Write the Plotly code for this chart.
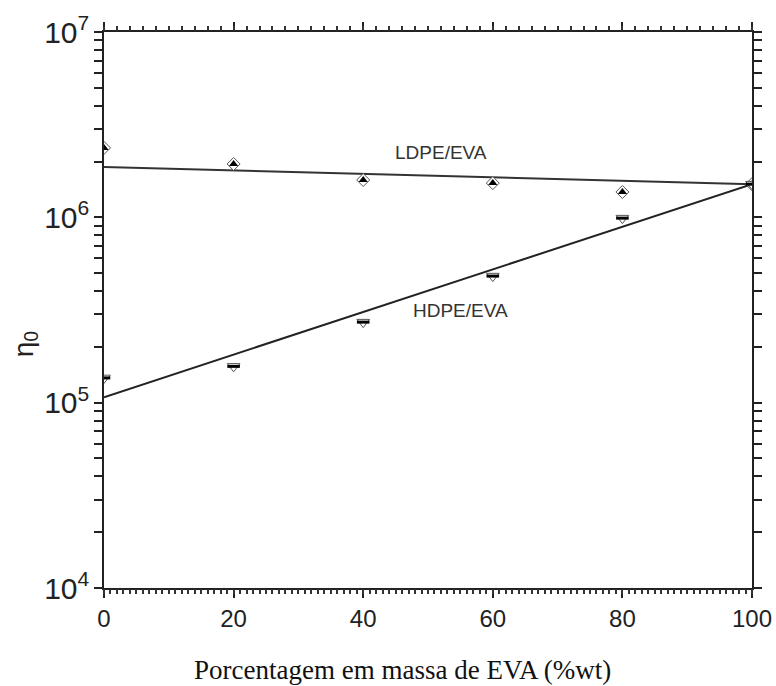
import plotly.graph_objects as go

# Data
eva_pct = [0, 20, 40, 60, 80, 100]
ldpe_eta0 = [2.37e6, 1.94e6, 1.59e6, 1.53e6, 1.37e6, 1.51e6]
hdpe_eta0 = [1.36e5, 1.57e5, 2.72e5, 4.82e5, 9.9e5, 1.51e6]

fit_x = [0, 100]
ldpe_fit = [1.87e6, 1.51e6]
hdpe_fit = [1.07e5, 1.51e6]

fig = go.Figure()

# fitted lines
fig.add_trace(go.Scatter(x=fit_x, y=ldpe_fit, mode="lines",
                         line=dict(color="#333333", width=2), showlegend=False))
fig.add_trace(go.Scatter(x=fit_x, y=hdpe_fit, mode="lines",
                         line=dict(color="#222222", width=2), showlegend=False))

# LDPE/EVA markers (half-filled diamond look)
fig.add_trace(go.Scatter(x=eva_pct, y=ldpe_eta0, mode="markers",
                         marker=dict(symbol="diamond", size=10, color="white",
                                     line=dict(color="#555555", width=1)),
                         showlegend=False))
fig.add_trace(go.Scatter(x=eva_pct, y=ldpe_eta0, mode="markers",
                         marker=dict(symbol="triangle-up", size=8, color="black",
                                     line=dict(width=0)),
                         showlegend=False))

# HDPE/EVA markers (half-filled down triangle look)
fig.add_trace(go.Scatter(x=eva_pct, y=hdpe_eta0, mode="markers",
                         marker=dict(symbol="triangle-down", size=11, color="white",
                                     line=dict(color="#555555", width=1)),
                         showlegend=False))
fig.add_trace(go.Scatter(x=eva_pct, y=hdpe_eta0, mode="markers",
                         marker=dict(symbol="line-ew", size=9,
                                     line=dict(color="black", width=3)),
                         showlegend=False))

# invisible traces for the extra (tick-only) axes
for ax in ["x2", "x3", "x4"]:
    fig.add_trace(go.Scatter(x=fit_x, y=ldpe_fit, xaxis=ax, mode="lines",
                             line=dict(width=0), opacity=0, showlegend=False,
                             hoverinfo="skip"))

fig.add_annotation(x=52, y=6.35, text="LDPE/EVA", showarrow=False,
                   font=dict(family="Liberation Sans, Arial", size=19, color="#333333"))
fig.add_annotation(x=55, y=5.5, text="HDPE/EVA", showarrow=False,
                   font=dict(family="Liberation Sans, Arial", size=19, color="#333333"))

# axis titles as annotations for exact placement
fig.add_annotation(xref="paper", yref="paper", x=0.46, y=-0.147,
                   xanchor="center", yanchor="middle", showarrow=False,
                   text="Porcentagem em massa de EVA (%wt)",
                   font=dict(family="Liberation Serif, Times New Roman", size=27,
                             color="#111111"))
fig.add_annotation(xref="paper", yref="paper", x=-0.122, y=0.44,
                   xanchor="center", yanchor="middle", showarrow=False,
                   textangle=-90, text="η<sub>0</sub>",
                   font=dict(family="Liberation Sans, Arial", size=28, color="#222222"))

axis_common = dict(showgrid=False, zeroline=False, showline=True,
                   linecolor="#222222", linewidth=2, automargin=False)
tick_only = dict(showgrid=False, zeroline=False, showline=False,
                 automargin=False, showticklabels=False, overlaying="x",
                 range=[0, 100], tickmode="linear", tick0=0,
                 ticks="outside", ticklen=5, tickwidth=2, tickcolor="#333333")

fig.update_layout(
    width=776, height=686,
    margin=dict(l=104, r=24, t=32, b=98),
    paper_bgcolor="white", plot_bgcolor="white",
    font=dict(family="Liberation Sans, Arial", color="#222222"),
    xaxis=dict(
        range=[0, 100], tickmode="linear", tick0=0, dtick=20,
        ticks="outside", ticklen=8, tickwidth=2, tickcolor="#222222",
        tickfont=dict(size=24, color="#222222"),
        **axis_common,
    ),
    xaxis2=dict(
        overlaying="x", side="top", range=[0, 100], tickmode="linear",
        tick0=0, dtick=20, showticklabels=False,
        ticks="outside", ticklen=8, tickwidth=2, tickcolor="#222222",
        **axis_common,
    ),
    xaxis3=dict(side="bottom", dtick=1, **tick_only),
    xaxis4=dict(side="top", dtick=2, **tick_only),
    yaxis=dict(
        type="log", range=[4, 7], dtick=1, tick0=0,
        exponentformat="power", showexponent="all", mirror="allticks",
        ticks="outside", ticklen=8, tickwidth=2, tickcolor="#222222",
        minor=dict(dtick="D1", ticks="outside", ticklen=5, tickwidth=2,
                   tickcolor="#222222", showgrid=False),
        tickfont=dict(size=24, color="#222222"),
        **axis_common,
    ),
)

fig.write_html("out.html")
